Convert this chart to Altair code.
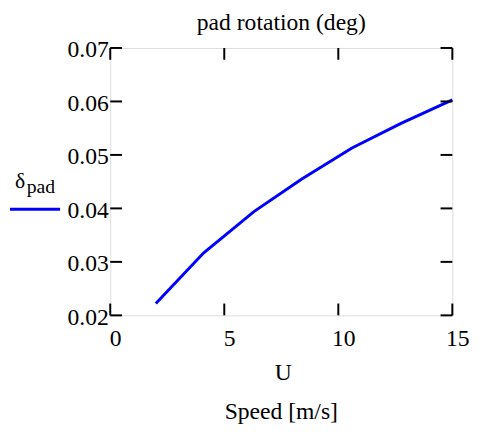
import altair as alt
import pandas as pd

# Data
U = [2.0, 4.1, 6.3, 8.4, 10.6, 12.75, 15.0]
delta_pad = [0.0222, 0.0317, 0.0394, 0.0455, 0.0513, 0.0559, 0.0603]
x_ticks = [0, 5, 10, 15]
y_ticks = [0.02, 0.03, 0.04, 0.05, 0.06, 0.07]

W, H = 348, 272
FONT = "Liberation Serif"
TICK = 12

df = pd.DataFrame({"U": U, "delta": delta_pad})
xt = pd.DataFrame({"U": x_ticks})
yt = pd.DataFrame({"delta": y_ticks})
one = pd.DataFrame({"a": [0]})

xscale = alt.Scale(domain=[0, 15], nice=False, zero=False)
yscale = alt.Scale(domain=[0.02, 0.07], nice=False, zero=False)

xaxis = alt.Axis(values=x_ticks, format="d", title=None, ticks=False, domain=False, grid=False,
                 labelFont=FONT, labelFontSize=24, labelColor="black", labelPadding=12,
                 labelOffset=5, labelFlush=False, labelOverlap=False)
yaxis = alt.Axis(values=y_ticks, format=".2f", title=None, ticks=False, domain=False, grid=False,
                 labelFont=FONT, labelFontSize=24, labelColor="black", labelPadding=2,
                 labelOffset=2, labelFlush=False, labelOverlap=False)

line = alt.Chart(df).mark_line(color="#0000ff", strokeWidth=3).encode(
    x=alt.X("U:Q", scale=xscale, axis=xaxis),
    y=alt.Y("delta:Q", scale=yscale, axis=yaxis),
)

tick_bottom = alt.Chart(xt).mark_rule(color="black", strokeWidth=2).encode(
    x=alt.X("U:Q", scale=xscale), y=alt.value(H), y2=alt.value(H - TICK))
tick_top = alt.Chart(xt).mark_rule(color="black", strokeWidth=2).encode(
    x=alt.X("U:Q", scale=xscale), y=alt.value(0), y2=alt.value(TICK))
tick_left = alt.Chart(yt).mark_rule(color="black", strokeWidth=2).encode(
    y=alt.Y("delta:Q", scale=yscale), x=alt.value(0), x2=alt.value(TICK))
tick_right = alt.Chart(yt).mark_rule(color="black", strokeWidth=2).encode(
    y=alt.Y("delta:Q", scale=yscale), x=alt.value(W - TICK), x2=alt.value(W))

legend_line = alt.Chart(one).mark_rule(color="#0000ff", strokeWidth=3).encode(
    x=alt.value(-102), x2=alt.value(-51), y=alt.value(164))
legend_delta = alt.Chart(one).mark_text(text="δ", font=FONT, fontSize=22, align="left",
                                        baseline="alphabetic", color="black").encode(
    x=alt.value(-97), y=alt.value(142))
legend_pad = alt.Chart(one).mark_text(text="pad", font=FONT, fontSize=20, align="left",
                                      baseline="alphabetic", color="black").encode(
    x=alt.value(-85), y=alt.value(148))

title_txt = alt.Chart(one).mark_text(text="pad rotation (deg)", font=FONT, fontSize=24,
                                     align="center", baseline="alphabetic", color="black").encode(
    x=alt.value(W / 2), y=alt.value(-18))
u_txt = alt.Chart(one).mark_text(text="U", font=FONT, fontSize=24, align="center",
                                 baseline="alphabetic", color="black").encode(
    x=alt.value(W / 2 + 2), y=alt.value(338))
speed_txt = alt.Chart(one).mark_text(text="Speed [m/s]", font=FONT, fontSize=24, align="center",
                                     baseline="alphabetic", color="black").encode(
    x=alt.value(W / 2), y=alt.value(377))

chart = alt.layer(
    line, tick_bottom, tick_top, tick_left, tick_right,
    legend_line, legend_delta, legend_pad, title_txt, u_txt, speed_txt
).properties(
    width=W, height=H,
    autosize=alt.AutoSizeParams(type="none"),
    padding={"left": 104, "top": 37, "right": 20, "bottom": 115},
).configure_view(stroke="black", strokeWidth=2).configure(background="white")

chart.save("out.html", embed_options={"renderer": "svg", "actions": False})
